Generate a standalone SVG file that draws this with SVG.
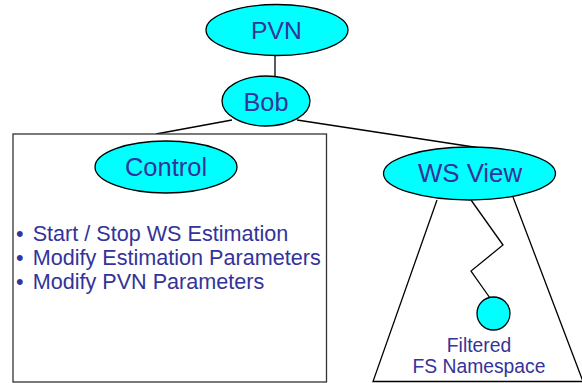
<svg xmlns="http://www.w3.org/2000/svg" width="582" height="383" viewBox="0 0 582 383">
<style>
.node{fill:#00ffff;stroke:#000;stroke-width:1.3}
.lbl{font-family:"Liberation Sans",Arial,sans-serif;fill:#333399;text-anchor:middle}
.txt{font-family:"Liberation Sans",Arial,sans-serif;fill:#333399}
.ln{stroke:#000;stroke-width:1.3;fill:none}
</style>
<rect width="582" height="383" fill="#fff"/>
<g id="connectors">
<line class="ln" x1="275" y1="55" x2="275" y2="77"/>
<line class="ln" x1="232" y1="120" x2="156" y2="134"/>
<line class="ln" x1="297" y1="120" x2="477" y2="147.5"/>
<polyline class="ln" points="471,200 503,245 471,271 490,298"/>
</g>
<g id="control-box">
<rect x="13" y="134" width="313.5" height="248" fill="#fff" stroke="#333" stroke-width="1.3"/>
</g>
<g id="ws-trapezoid">
<polyline class="ln" points="437,200 373,381.5 583,381.5 513,197"/>
</g>
<g id="pvn">
<ellipse class="node" cx="277" cy="30" rx="71" ry="25.5"/>
<text class="lbl" x="276.5" y="39.3" font-size="24.7">PVN</text>
</g>
<g id="bob">
<ellipse class="node" cx="266" cy="101" rx="44" ry="25"/>
<text class="lbl" x="266" y="111" font-size="25.3">Bob</text>
</g>
<g id="control">
<ellipse class="node" cx="166" cy="167" rx="71" ry="26"/>
<text class="lbl" x="166" y="176" font-size="25.5">Control</text>
</g>
<g id="control-items">
<text class="txt" y="240.7" font-size="21.6"><tspan x="16">•</tspan><tspan x="32.7">Start / Stop WS Estimation</tspan></text>
<text class="txt" y="265" font-size="21.6"><tspan x="16">•</tspan><tspan x="32.7">Modify Estimation Parameters</tspan></text>
<text class="txt" y="289.3" font-size="21.6"><tspan x="16">•</tspan><tspan x="32.7">Modify PVN Parameters</tspan></text>
</g>
<g id="ws-view">
<ellipse class="node" cx="469.5" cy="173.5" rx="86" ry="26.5"/>
<text class="lbl" x="470" y="181.7" font-size="25.8">WS View</text>
</g>
<g id="fs-namespace">
<circle class="node" cx="493.5" cy="313.5" r="16.5"/>
<text class="lbl" x="479" y="352" font-size="19.3">Filtered</text>
<text class="lbl" x="479" y="373.3" font-size="19.3">FS Namespace</text>
</g>
</svg>
